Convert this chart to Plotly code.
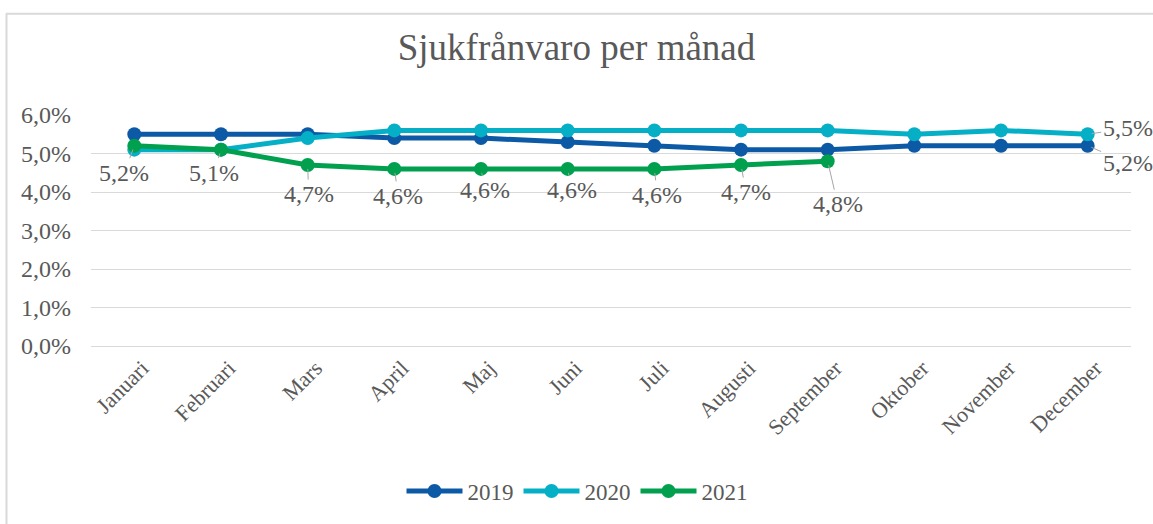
import plotly.graph_objects as go

months = ["Januari", "Februari", "Mars", "April", "Maj", "Juni", "Juli",
          "Augusti", "September", "Oktober", "November", "December"]
s2019 = [5.5, 5.5, 5.5, 5.4, 5.4, 5.3, 5.2, 5.1, 5.1, 5.2, 5.2, 5.2]
s2020 = [5.1, 5.1, 5.4, 5.6, 5.6, 5.6, 5.6, 5.6, 5.6, 5.5, 5.6, 5.5]
s2021 = [5.2, 5.1, 4.7, 4.6, 4.6, 4.6, 4.6, 4.7, 4.8]
y_ticks = [0, 1, 2, 3, 4, 5, 6]


def fmt(v):
    return f"{v:.1f}%".replace(".", ",")


W, H = 1153, 524
ML, MR, MT, MB = 91, 22, 115, 175
PW, PH = W - ML - MR, H - MT - MB

colors = {"2019": "#0C5AA6", "2020": "#05AFC6", "2021": "#00A04F"}
font = "Liberation Serif, Times New Roman, serif"
grey = "#595959"
lead = "#A6A6A6"

fig = go.Figure()
for name, vals in [("2019", s2019), ("2020", s2020), ("2021", s2021)]:
    fig.add_trace(go.Scatter(
        x=months[:len(vals)], y=vals, name=name, mode="lines+markers",
        line=dict(color=colors[name], width=5),
        marker=dict(color=colors[name], size=14),
    ))

# label offsets (px) for the 2021 series
offs_2021 = [(-10, 27), (-7, 23), (1, 29), (4, 27), (4, 21), (4, 21), (3, 26), (5, 27), (10, 43)]
ann = []
lab_font = dict(family=font, size=24, color=grey)
for i, v in enumerate(s2021):
    ax, ay = offs_2021[i]
    ann.append(dict(x=months[i], y=v, text=fmt(v), ax=ax, ay=ay, showarrow=True,
                    arrowhead=0, arrowwidth=1, arrowcolor=lead, standoff=4,
                    font=lab_font))
ann.append(dict(x=months[11], y=s2020[11], text=fmt(s2020[11]), ax=40, ay=-6, showarrow=True,
                arrowhead=0, arrowwidth=1, arrowcolor=lead, standoff=4, font=lab_font))
ann.append(dict(x=months[11], y=s2019[11], text=fmt(s2019[11]), ax=40, ay=17, showarrow=True,
                arrowhead=0, arrowwidth=1, arrowcolor=lead, standoff=4, font=lab_font))


def px2x(p):
    return (p - ML) / PW


def px2y(p):
    return (H - MB - p) / PH


fig.update_layout(
    width=W, height=H,
    margin=dict(l=ML, r=MR, t=MT, b=MB),
    paper_bgcolor="white", plot_bgcolor="white",
    title=dict(text="Sjukfrånvaro per månad", x=0.5, xanchor="center",
               y=1 - 47 / H, yanchor="middle",
               font=dict(family=font, size=37, color=grey)),
    font=dict(family=font, color=grey),
    showlegend=True,
    legend=dict(orientation="h", x=px2x(577), xanchor="center", y=px2y(496), yanchor="middle",
                font=dict(family=font, size=23, color=grey), itemwidth=56),
    annotations=ann,
    shapes=[
        dict(type="line", xref="paper", yref="paper",
             x0=px2x(6.5), x1=px2x(6.5), y0=px2y(12), y1=px2y(530),
             line=dict(color="#D9D9D9", width=2), layer="below"),
        dict(type="line", xref="paper", yref="paper",
             x0=px2x(6), x1=px2x(1160), y0=px2y(12.5), y1=px2y(12.5),
             line=dict(color="#D9D9D9", width=2), layer="below"),
    ],
)
fig.update_xaxes(
    type="category", range=[-0.5, 11.5], showgrid=False, tickangle=-45,
    tickfont=dict(family=font, size=22, color=grey),
    showline=False, ticks="", automargin=False,
    ticklabelshift=8, ticklabelstandoff=4,
)
fig.update_yaxes(
    range=[0, 6], tickvals=y_ticks, ticktext=[fmt(t) for t in y_ticks],
    showgrid=True, gridcolor="#D9D9D9", gridwidth=1,
    zeroline=True, zerolinecolor="#D9D9D9", zerolinewidth=1,
    tickfont=dict(family=font, size=24, color=grey),
    ticklabelstandoff=19, automargin=False,
)

fig.write_html("out.html", config={"displayModeBar": False},
               post_script="document.body.style.margin='0px';")
